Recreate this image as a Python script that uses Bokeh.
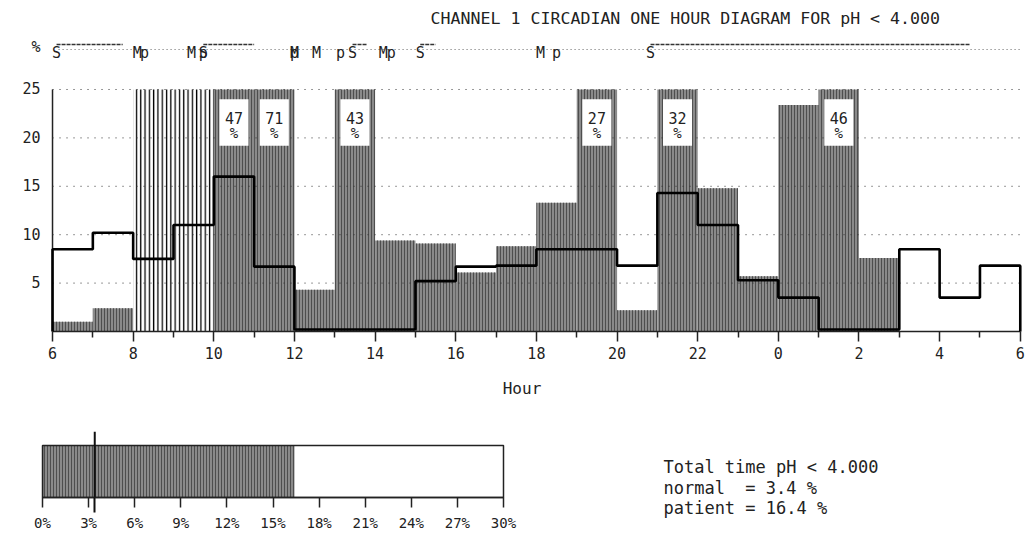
import numpy as np
from bokeh.plotting import figure
from bokeh.models import ColumnDataSource, FixedTicker, Range1d
from bokeh.layouts import column
from bokeh.embed import file_html
from bokeh.resources import INLINE
from bokeh.core.properties import value

FONT = "DejaVu Sans Mono"

# ---------------- data ----------------
hours_of_day = [6, 7, 8, 9, 10, 11, 12, 13, 14, 15, 16, 17,
                18, 19, 20, 21, 22, 23, 0, 1, 2, 3, 4, 5]
patient_pct = [1.0, 2.4, np.nan, np.nan, 47, 71, 4.3, 43, 9.4, 9.1, 6.1, 8.8,
               13.3, 27, 2.2, 32, 14.8, 5.7, 23.4, 46, 7.6, 0.0, 0.0, 0.0]
normal_pct = [8.5, 10.2, 7.5, 11.0, 16.0, 6.7, 0.2, 0.2, 0.2, 5.2, 6.7, 6.8,
              8.5, 8.5, 6.8, 14.3, 11.0, 5.3, 3.5, 0.2, 0.2, 8.5, 3.5, 6.8]
excluded_hours = [8, 9]
y_ticks = [5, 10, 15, 20, 25]
y_cap = 25
y_unit_label = "%"
x_tick_labels = ["6", "8", "10", "12", "14", "16", "18", "20", "22", "0", "2", "4", "6"]

meal_times = [8.1, 9.45, 12.0, 12.55, 14.2, 18.1]
p_times = [8.28, 9.74, 12.0, 13.14, 14.4, 18.5]
supine_start = [6.1, 9.74, 13.44, 15.12, 20.83]
supine_end = [7.74, 11.0, 13.79, 15.5, 4.76]

ph_threshold = 4.0
total_normal = 3.4
total_patient = 16.4
pct_ticks = [0, 3, 6, 9, 12, 15, 18, 21, 24, 27, 30]


def offset(h):
    return (np.asarray(h, dtype=float) - 6.0) % 24.0


TXT = "#222"
EVENT_Y = 29.34

# ---------------- top chart ----------------
p = figure(width=1027, height=402, x_range=Range1d(-0.794, 24.08), y_range=Range1d(0, 33.16),
           output_backend="svg", toolbar_location=None,
           min_border_left=20, min_border_right=4, min_border_top=10, min_border_bottom=71)
p.outline_line_color = None
p.background_fill_color = "white"
p.border_fill_color = "white"

off = offset(hours_of_day)
pat = np.array(patient_pct, dtype=float)
valid = ~np.isnan(pat)
bars = ColumnDataSource(dict(left=off[valid], right=off[valid] + 1,
                             top=np.minimum(pat[valid], y_cap)))
p.quad(left="left", right="right", bottom=0, top="top", source=bars,
       fill_color="#8a8a8a", line_color=None,
       hatch_pattern="vertical_line", hatch_color="#4e4e4e", hatch_scale=3, hatch_weight=1)

ex = offset(excluded_hours)
p.quad(left=ex, right=ex + 1, bottom=0, top=y_cap, fill_color="white", line_color=None,
       hatch_pattern="vertical_line", hatch_color="black", hatch_scale=4.3, hatch_weight=1.3)

# dotted horizontal grid over the plotting area (hour 6 to hour 6)
grid = p.segment(x0=0, y0=y_ticks, x1=24, y1=y_ticks, line_color="#333",
                 line_dash="1 6", line_width=1)
grid.level = "guide"

# labels for bars over the cap
big = valid & (np.nan_to_num(pat) > y_cap)
cx = off[big] + 0.5
boxes = p.quad(left=cx - 0.36, right=cx + 0.36, bottom=19.2, top=24.0,
               fill_color="white", line_color=None)
boxes.level = "annotation"
t1 = p.text(x=cx, y=22.1, text=[f"{int(v)}" for v in pat[big]],
            text_font=value(FONT), text_font_size="15px", text_align="center",
            text_baseline="middle", text_color=TXT)
t2 = p.text(x=cx, y=20.5, text=["%"] * int(big.sum()),
            text_font=value(FONT), text_font_size="14px", text_align="center",
            text_baseline="middle", text_color=TXT)
t1.level = "annotation"
t2.level = "annotation"

# normal step outline
xs = [0.0]
ys = [0.0]
for i, v in enumerate(normal_pct):
    xs += [i, i + 1]
    ys += [v, v]
xs.append(24.0)
ys.append(0.0)
nl = p.line(xs, ys, line_color="black", line_width=2.6)
nl.level = "annotation"

# y axis line only up to the cap
p.segment(x0=[0], y0=[0], x1=[0], y1=[y_cap], line_color=TXT, line_width=1.5)

# event row
p.segment(x0=[0.15], y0=29.13, x1=[24.0], y1=29.13, line_color="#666",
          line_dash="1 3", line_width=1)
s0 = offset(supine_start)
s1 = offset(supine_end)
p.segment(x0=s0, y0=29.65, x1=s1, y1=29.65, line_color="#333", line_dash="4 1", line_width=1.5)
ev_font = dict(text_font=value(FONT), text_font_size="15px", text_align="center",
               text_baseline="alphabetic", text_color=TXT)
p.text(x=s0, y=28.8, text=["S"] * len(s0), **ev_font)
p.text(x=offset(meal_times), y=28.8, text=["M"] * len(meal_times), **ev_font)
p.text(x=offset(p_times), y=28.8, text=["p"] * len(p_times), **ev_font)

p.text(x=[9.375], y=[32.3],
       text=[f"CHANNEL 1 CIRCADIAN ONE HOUR DIAGRAM FOR pH < {ph_threshold:.3f}"],
       text_font=value(FONT), text_font_size="16.6px", text_align="left",
       text_baseline="middle", text_color=TXT)

# axes
xt = list(range(0, 25, 2))
p.xaxis.ticker = FixedTicker(ticks=xt, minor_ticks=list(range(1, 24, 2)))
p.xaxis.bounds = (0, 24)
p.xaxis.major_label_overrides = {t: lab for t, lab in zip(xt, x_tick_labels)}
p.xaxis.major_tick_out = 10
p.xaxis.major_tick_in = 0
p.xaxis.minor_tick_out = 6
p.xaxis.minor_tick_in = 0
p.xaxis.axis_line_width = 1.5
p.xaxis.major_tick_line_width = 1.5
p.xaxis.minor_tick_line_width = 1.5
p.xaxis.axis_line_color = TXT
p.xaxis.major_tick_line_color = TXT
p.xaxis.minor_tick_line_color = TXT
p.xaxis.major_label_text_font = FONT
p.xaxis.major_label_text_font_size = "15px"
p.xaxis.major_label_text_color = TXT
p.xaxis.major_label_standoff = 5
p.xaxis.axis_label = "Hour"
p.xaxis.axis_label_text_font = FONT
p.xaxis.axis_label_text_font_size = "16px"
p.xaxis.axis_label_text_font_style = "normal"
p.xaxis.axis_label_text_color = TXT
p.xaxis.axis_label_standoff = 17

p.yaxis.fixed_location = 0
p.yaxis.ticker = FixedTicker(ticks=y_ticks + [EVENT_Y], minor_ticks=[])
p.yaxis.major_label_overrides = {EVENT_Y: y_unit_label}
p.yaxis.axis_line_color = None
p.yaxis.major_tick_line_color = None
p.yaxis.major_tick_out = 0
p.yaxis.major_tick_in = 0
p.yaxis.major_label_text_font = FONT
p.yaxis.major_label_text_font_size = "15px"
p.yaxis.major_label_text_color = TXT
p.yaxis.major_label_standoff = 12

p.grid.visible = False

# ---------------- bottom total bar + summary ----------------
b = figure(width=1027, height=136, x_range=Range1d(-1.432, 63.84), y_range=Range1d(-0.788, 1.27),
           output_backend="svg", toolbar_location=None, y_axis_type=None,
           min_border_left=20, min_border_right=4, min_border_top=29, min_border_bottom=0)
b.outline_line_color = None
b.background_fill_color = "white"
b.border_fill_color = "white"
b.grid.visible = False
b.quad(left=[0], right=[total_patient], bottom=0, top=1, fill_color="#8a8a8a", line_color=None,
       hatch_pattern="vertical_line", hatch_color="#4e4e4e", hatch_scale=3, hatch_weight=1)
b.quad(left=[0], right=[pct_ticks[-1]], bottom=0, top=1, fill_color=None,
       line_color=TXT, line_width=1.5)
b.segment(x0=[total_normal], y0=0, x1=[total_normal], y1=1.27, line_color="#111", line_width=2)
b.xaxis.fixed_location = 0
b.xaxis.ticker = FixedTicker(ticks=pct_ticks, minor_ticks=[total_normal])
b.xaxis.bounds = (0, pct_ticks[-1])
b.xaxis.major_label_overrides = {t: f"{t}%" for t in pct_ticks}
b.xaxis.major_tick_out = 10
b.xaxis.major_tick_in = 0
b.xaxis.minor_tick_out = 15
b.xaxis.minor_tick_in = 0
b.xaxis.minor_tick_line_width = 2
b.xaxis.minor_tick_line_color = "#111"
b.xaxis.axis_line_width = 1.5
b.xaxis.major_tick_line_width = 1.5
b.xaxis.axis_line_color = TXT
b.xaxis.major_tick_line_color = TXT
b.xaxis.major_label_text_font = FONT
b.xaxis.major_label_text_font_size = "14px"
b.xaxis.major_label_text_color = TXT
b.xaxis.major_label_standoff = 2

lines = [f"Total time pH < {ph_threshold:.3f}",
         f"normal\u00a0\u00a0= {total_normal} %",
         f"patient = {total_patient} %"]
b.text(x=[40.41] * 3, y=[0.596, 0.192, -0.192], text=lines, text_font=value(FONT),
       text_font_size="17px", text_align="left", text_baseline="middle", text_color=TXT)

layout = column(p, b)
open("out.html", "w").write(file_html(layout, INLINE))
